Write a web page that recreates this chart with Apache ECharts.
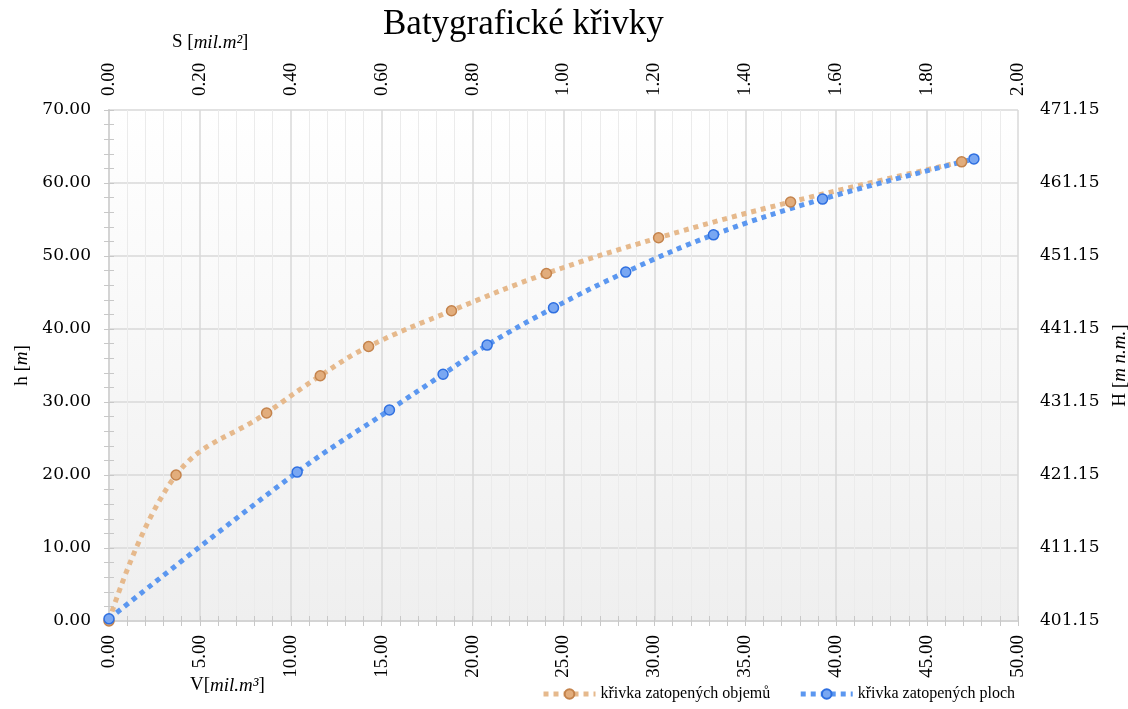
<!DOCTYPE html>
<html>
<head>
<meta charset="utf-8">
<title>Batygrafické křivky</title>
<script src="https://cdn.jsdelivr.net/npm/echarts@6/dist/echarts.min.js"></script>
<style>
  html, body { margin: 0; padding: 0; background: #fff; }
  #chart { width: 1128px; height: 709px; }
</style>
</head>
<body>
<div id="chart"></div>
<script>
// krivka zatopenych objemu: V [mil.m3] vs h [m]
const volumeV = [0, 3.69, 8.67, 11.62, 14.28, 18.84, 24.06, 30.23, 37.49, 46.9];
const volumeH = [0, 20.0, 28.5, 33.6, 37.6, 42.5, 47.6, 52.5, 57.4, 62.9];
// krivka zatopenych ploch: S [mil.m2] vs h [m]
const areaS = [0, 0.414, 0.617, 0.735, 0.832, 0.978, 1.137, 1.330, 1.570, 1.903];
const areaH = [0.3, 20.4, 28.9, 33.8, 37.8, 42.9, 47.8, 52.9, 57.8, 63.3];

const baseLevel = 401.15; // H = h + 401.15
const seriesNames = ['křivka zatopených objemů', 'křivka zatopených ploch'];

const serif = 'Liberation Serif';
const labelFont = 'DejaVu Serif';

let volumeData = volumeV.map((v, i) => [v, volumeH[i]]);
let areaData = areaS.map((s, i) => [s, areaH[i]]);

let fmt2 = v => v.toFixed(2);

const axisGrey = '#d4d4d4';
const tickGrey = '#c8c8c8';

// invisible axes that only draw the small inside ticks
function tickAxis(position, max, interval) {
  return {
    type: 'value',
    position: position,
    min: 0,
    max: max,
    interval: interval,
    axisLine: { show: false },
    axisTick: { show: true, inside: true, length: 5, lineStyle: { color: tickGrey } },
    axisLabel: { show: false },
    splitLine: { show: false }
  };
}

let nameRich = {
  n: { fontFamily: serif, fontSize: 19, color: '#000' },
  i: { fontFamily: serif, fontSize: 19, fontStyle: 'italic', color: '#000' }
};

let option = {
  animation: false,
  backgroundColor: '#fff',
  title: {
    text: 'Batygrafické křivky',
    left: 378,
    top: 2,
    textStyle: { fontFamily: serif, fontSize: 35, fontWeight: 'normal', color: '#000' }
  },
  legend: {
    data: seriesNames,
    right: 108,
    bottom: 2,
    itemWidth: 52,
    itemHeight: 12,
    itemGap: 28,
    lineStyle: { width: 5, type: [5, 5], cap: 'butt' },
    textStyle: { fontFamily: serif, fontSize: 16, color: '#000' }
  },
  grid: {
    left: 109,
    right: 110,
    top: 110,
    bottom: 88,
    outerBoundsMode: 'none',
    containLabel: false,
    show: true,
    borderWidth: 0,
    backgroundColor: new echarts.graphic.LinearGradient(0, 0, 0, 1, [
      { offset: 0, color: '#ffffff' },
      { offset: 1, color: '#efefef' }
    ])
  },
  xAxis: [
    {
      type: 'value',
      position: 'bottom',
      min: 0,
      max: 50,
      interval: 5,
      axisLine: { show: true, lineStyle: { color: axisGrey, width: 2 } },
      axisTick: { show: false },
      minorTick: { show: false, splitNumber: 5 },
      splitLine: { show: true, lineStyle: { color: '#d9d9d9', width: 1.5 } },
      minorSplitLine: { show: true, lineStyle: { color: '#ebebeb', width: 1 } },
      axisLabel: {
        rotate: 90, margin: 14, formatter: fmt2,
        fontFamily: serif, fontSize: 19, color: '#000'
      }
    },
    {
      type: 'value',
      position: 'top',
      min: 0,
      max: 2,
      interval: 0.2,
      axisLine: { show: true, lineStyle: { color: axisGrey, width: 2 } },
      axisTick: { show: false },
      splitLine: { show: false },
      axisLabel: {
        rotate: 90, margin: 14, formatter: fmt2,
        fontFamily: serif, fontSize: 19, color: '#000'
      }
    },
    tickAxis('bottom', 50, 1),
    tickAxis('top', 50, 1)
  ],
  yAxis: [
    {
      type: 'value',
      position: 'left',
      min: 0,
      max: 70,
      interval: 10,
      name: '{n|h [}{i|m}{n|]}',
      nameLocation: 'middle',
      nameRotate: 90,
      nameGap: 75,
      nameTextStyle: { rich: nameRich },
      axisLine: { show: true, lineStyle: { color: axisGrey, width: 2 } },
      axisTick: { show: false },
      splitLine: { show: true, lineStyle: { color: '#d9d9d9', width: 1.5 } },
      axisLabel: { margin: 18, formatter: fmt2, fontFamily: labelFont, fontSize: 17, color: '#000' }
    },
    {
      type: 'value',
      position: 'right',
      min: 0,
      max: 70,
      interval: 10,
      name: '{n|H [}{i|m n.m.}{n|]}',
      nameLocation: 'middle',
      nameRotate: 90,
      nameGap: 76,
      nameTextStyle: { rich: nameRich },
      axisLine: { show: true, lineStyle: { color: axisGrey, width: 2 } },
      axisTick: { show: false },
      splitLine: { show: false },
      axisLabel: {
        margin: 22,
        formatter: v => (v + baseLevel).toFixed(2),
        fontFamily: labelFont, fontSize: 17, color: '#000'
      }
    },
    tickAxis('left', 70, 2),
    tickAxis('right', 70, 2)
  ],
  graphic: [
    {
      type: 'text',
      left: 172,
      top: 33,
      style: {
        text: '{n|S [}{i|mil.m²}{n|]}',
        rich: {
          n: { fontFamily: serif, fontSize: 19, fill: '#000' },
          i: { fontFamily: serif, fontSize: 19, fontStyle: 'italic', fill: '#000' }
        }
      }
    },
    {
      type: 'text',
      left: 190,
      top: 676,
      style: {
        text: '{n|V[}{i|mil.m³}{n|]}',
        rich: {
          n: { fontFamily: serif, fontSize: 19, fill: '#000' },
          i: { fontFamily: serif, fontSize: 19, fontStyle: 'italic', fill: '#000' }
        }
      }
    }
  ],
  series: [
    {
      name: seriesNames[0],
      type: 'line',
      xAxisIndex: 0,
      yAxisIndex: 0,
      data: volumeData,
      smooth: 0.4,
      symbol: 'circle',
      symbolSize: 10,
      lineStyle: { color: '#e6b98c', width: 5, type: [5, 5], cap: 'butt' },
      itemStyle: { color: '#e2ad7c', borderColor: '#c4834c', borderWidth: 1.5 }
    },
    {
      name: seriesNames[1],
      type: 'line',
      xAxisIndex: 1,
      yAxisIndex: 0,
      data: areaData,
      smooth: 0.4,
      symbol: 'circle',
      symbolSize: 10,
      lineStyle: { color: '#5b97f0', width: 5, type: [5, 5], cap: 'butt' },
      itemStyle: { color: '#79a7f2', borderColor: '#2e6fe0', borderWidth: 1.5 }
    }
  ]
};

let myChart = echarts.init(document.getElementById('chart'));
myChart.setOption(option);
window.onresize = myChart.resize;
</script>
</body>
</html>
